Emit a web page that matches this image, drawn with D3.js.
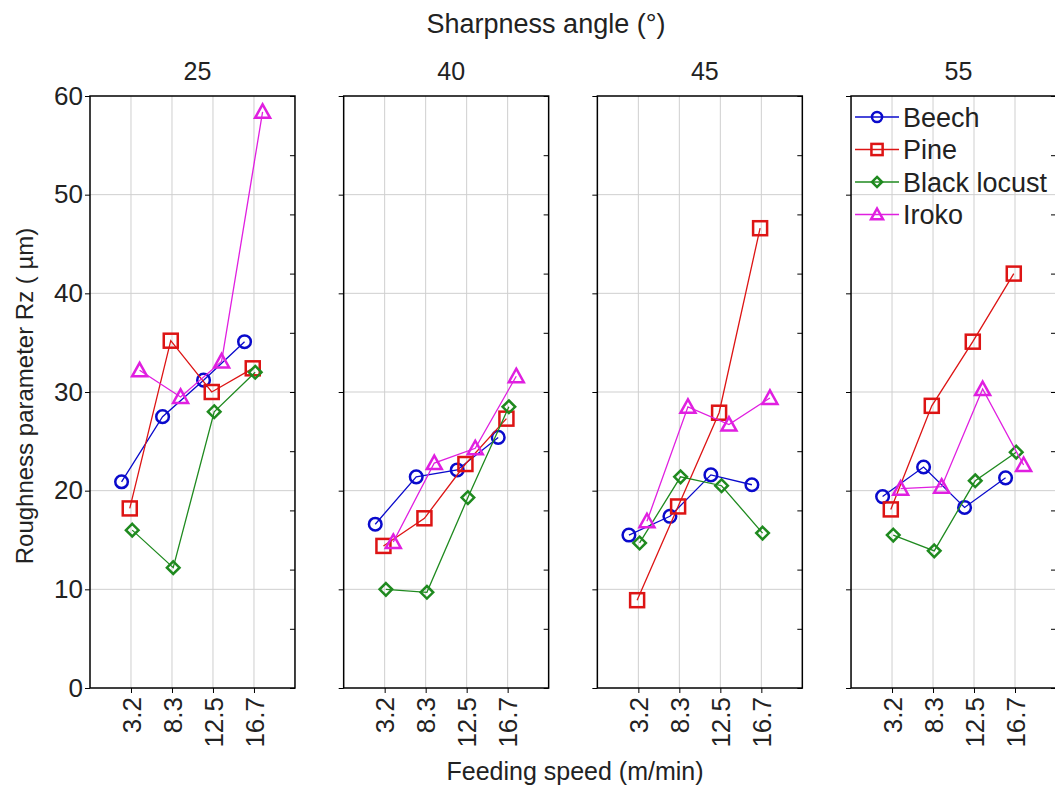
<!DOCTYPE html>
<html>
<head>
<meta charset="utf-8">
<script src="https://cdn.jsdelivr.net/npm/d3@7"></script>
<style>
    body { margin: 0; background: #fff; }
    svg { display: block; font-family: Arial, "Liberation Sans", sans-serif; }
    .grid line { stroke: #cfcfcf; stroke-width: 1; }
    .frame { fill: none; stroke: #000; stroke-width: 1.5; }
    .series-line { fill: none; stroke-width: 1.3; }
    .marker { fill: none; stroke-width: 2.5; }
</style>
</head>
<body>
<svg id="chart" width="1055" height="788"></svg>
<script>
/* Rz vs feeding speed, one panel per sharpness angle */
const angles = ['25', '40', '45', '55'];
const speeds = ['3.2', '8.3', '12.5', '16.7'];
const yTicks = [0, 10, 20, 30, 40, 50, 60];
const rightTicks = [0, 6, 12, 18, 24, 30, 36, 42, 48, 54, 60];

// one row per panel (angle), one value per feeding speed
const beech = [
    [20.9, 27.5, 31.2, 35.1],
    [16.6, 21.4, 22.1, 25.4],
    [15.5, 17.4, 21.6, 20.6],
    [19.4, 22.4, 18.3, 21.3],
];
const pine = [
    [18.2, 35.2, 30.0, 32.4],
    [14.4, 17.2, 22.7, 27.3],
    [8.9, 18.4, 27.9, 46.6],
    [18.1, 28.6, 35.1, 42.0],
];
const blackLocust = [
    [16.0, 12.2, 28.0, 32.0],
    [10.0, 9.7, 19.3, 28.5],
    [14.7, 21.4, 20.5, 15.7],
    [15.5, 13.9, 21.0, 23.9],
];
const iroko = [
    [32.2, 29.5, 33.1, 58.4],
    [14.8, 22.8, 24.3, 31.6],
    [16.9, 28.5, 26.7, 29.4],
    [20.2, 20.4, 30.3, 22.6],
];

const seriesNames = ['Beech', 'Pine', 'Black locust', 'Iroko'];
const seriesValues = [beech, pine, blackLocust, iroko];

const styles = {
    'Beech': { color: '#0a0acc', symbol: 'circle', shift: -0.23 },
    'Pine': { color: '#dd1414', symbol: 'square', shift: -0.03 },
    'Black locust': { color: '#1f8a1f', symbol: 'diamond', shift: 0.03 },
    'Iroko': { color: '#e01fe0', symbol: 'triangle', shift: 0.21 },
};

const svg = d3.select('#chart');

const panelX = d3.scaleBand().domain(angles).range([90, 1056]).paddingInner(0.192);
const y = d3.scaleLinear().domain([0, 60]).range([688, 96]);

function drawMarker(g, symbol, cx, cy, color, k = 1) {
    if (symbol === 'circle') {
        g.append('circle').attr('class', 'marker').attr('cx', cx).attr('cy', cy)
            .attr('r', 6.3 * k).attr('stroke', color);
    } else if (symbol === 'square') {
        const s = 7 * k;
        g.append('rect').attr('class', 'marker').attr('x', cx - s).attr('y', cy - s)
            .attr('width', 2 * s).attr('height', 2 * s).attr('stroke', color);
    } else if (symbol === 'diamond') {
        const s = 6.3 * k;
        g.append('path').attr('class', 'marker')
            .attr('d', `M${cx},${cy - s} L${cx + s},${cy} L${cx},${cy + s} L${cx - s},${cy} Z`)
            .attr('stroke', color);
    } else {
        const s = 7.5 * k;
        g.append('path').attr('class', 'marker')
            .attr('d', `M${cx},${cy - s} L${cx + s},${cy + s * 0.8} L${cx - s},${cy + s * 0.8} Z`)
            .attr('stroke', color);
    }
}

angles.forEach((angle, p) => {
    const left = panelX(angle);
    const w = panelX.bandwidth();
    const x = d3.scaleLinear().domain([0, 5]).range([left, left + w]);
    const g = svg.append('g').attr('class', 'panel');

    // grid
    const grid = g.append('g').attr('class', 'grid');
    grid.selectAll('.gx').data(speeds).join('line')
        .attr('x1', (d, i) => x(i + 1)).attr('x2', (d, i) => x(i + 1))
        .attr('y1', y(0)).attr('y2', y(60));
    grid.selectAll('.gy').data(yTicks.slice(1, -1)).join('line')
        .attr('x1', left).attr('x2', left + w)
        .attr('y1', (d) => y(d)).attr('y2', (d) => y(d));

    // axes
    const xAxis = d3.axisBottom(x).tickValues([1, 2, 3, 4])
        .tickFormat((d) => speeds[d - 1]).tickSize(5).tickSizeOuter(0);
    const gx = g.append('g').attr('transform', `translate(0,${y(0)})`).call(xAxis);
    gx.select('.domain').remove();
    gx.selectAll('text')
        .attr('transform', 'rotate(-90)')
        .attr('text-anchor', 'end')
        .attr('x', -9).attr('y', 0).attr('dy', '0.35em')
        .attr('font-size', 26).attr('font-family', 'Arial, "Liberation Sans", sans-serif')
        .attr('fill', '#222');

    const yAxis = d3.axisLeft(y).tickValues(yTicks).tickSize(5).tickSizeOuter(0)
        .tickFormat(p === 0 ? d3.format('d') : () => '');
    const gy = g.append('g').attr('transform', `translate(${left},0)`).call(yAxis);
    gy.select('.domain').remove();
    gy.selectAll('text').attr('font-size', 26).attr('x', -7)
        .attr('font-family', 'Arial, "Liberation Sans", sans-serif').attr('fill', '#222');

    const gr = g.append('g').attr('transform', `translate(${left + w},0)`)
        .call(d3.axisLeft(y).tickValues(rightTicks).tickSize(5).tickFormat(() => ''));
    gr.select('.domain').remove();

    g.append('rect').attr('class', 'frame')
        .attr('x', left).attr('y', y(60)).attr('width', w).attr('height', y(0) - y(60));

    g.append('text')
        .attr('x', left + w / 2 + 5).attr('y', 80)
        .attr('text-anchor', 'middle').attr('font-size', 25).attr('fill', '#222')
        .text(angle);

    // series
    seriesNames.forEach((name, s) => {
        const st = styles[name];
        const pts = seriesValues[s][p].map((v, i) => [x(i + 1 + st.shift), y(v)]);
        g.append('path').attr('class', 'series-line')
            .attr('stroke', st.color)
            .attr('d', d3.line()(pts));
        const mg = g.append('g');
        pts.forEach(([cx, cy]) => drawMarker(mg, st.symbol, cx, cy, st.color));
    });
});

// legend inside last panel
const legendLeft = panelX(angles[3]);
const legend = svg.append('g').attr('class', 'legend');
seriesNames.forEach((name, i) => {
    const st = styles[name];
    const ly = 117 + i * 32.5;
    legend.append('line')
        .attr('x1', legendLeft + 4).attr('x2', legendLeft + 48)
        .attr('y1', ly).attr('y2', ly)
        .attr('stroke', st.color).attr('stroke-width', 1.3);
    drawMarker(legend, st.symbol, legendLeft + 26, ly, st.color, 0.8);
    legend.append('text')
        .attr('x', legendLeft + 52).attr('y', ly).attr('dy', '0.36em')
        .attr('font-size', 27).attr('fill', '#222')
        .text(name);
});

// titles
svg.append('text')
    .attr('x', 546).attr('y', 33)
    .attr('text-anchor', 'middle').attr('font-size', 27).attr('fill', '#222')
    .text('Sharpness angle (°)');

svg.append('text')
    .attr('x', 575).attr('y', 780)
    .attr('text-anchor', 'middle').attr('font-size', 25).attr('fill', '#222')
    .text('Feeding speed (m/min)');

svg.append('text')
    .attr('transform', 'translate(33,396) rotate(-90)')
    .attr('text-anchor', 'middle').attr('font-size', 24).attr('fill', '#222')
    .text('Roughness parameter Rz ( µm)');
</script>
</body>
</html>
